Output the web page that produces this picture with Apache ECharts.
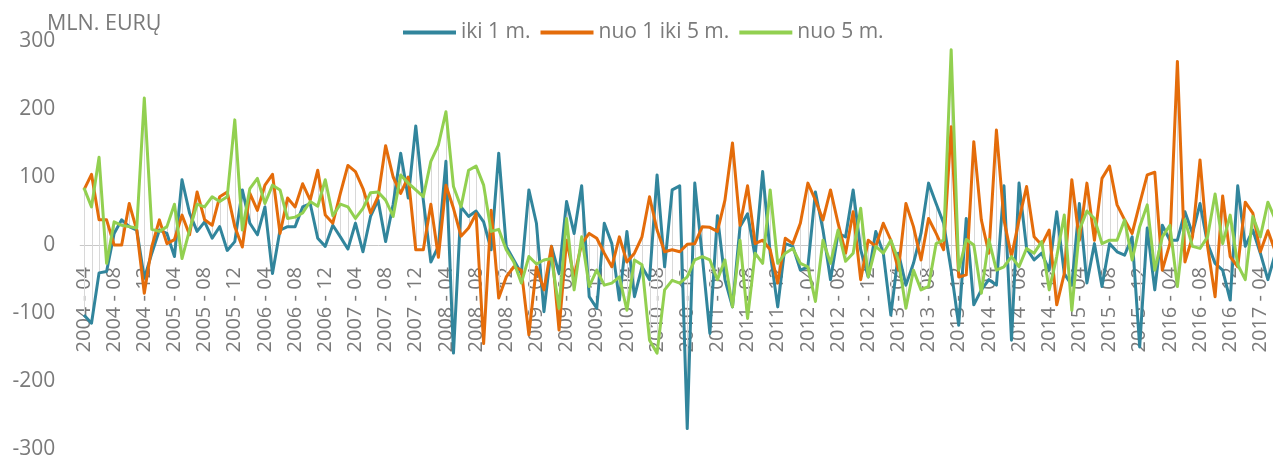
<!DOCTYPE html>
<html>
<head>
<meta charset="utf-8">
<script src="https://cdn.jsdelivr.net/npm/echarts@6/dist/echarts.min.js"></script>
<style>html,body{margin:0;padding:0;background:#fff;overflow:hidden}#c{width:1273px;height:459px}</style>
</head>
<body>
<div id="c"></div>
<script>
const firstYear = 2004, firstMonth = 4;
const seriesNames = ['iki 1 m.', 'nuo 1 iki 5 m.', 'nuo 5 m.'];
const yTicks = [-300, -200, -100, 0, 100, 200, 300];
const iki1 = [
-103,-115,-41,-39,17,37,27,22,-49,-12,
22,17,-17,96,47,20,34,10,27,-8,
5,81,32,15,56,-42,22,27,27,56,
61,10,-2,29,12,-6,32,-10,42,66,
5,60,135,69,175,66,-25,-2,123,-159,
56,42,50,34,-7,135,-2,-22,-42,81,
32,-98,-2,-42,64,17,87,-76,-93,32,
2,-81,20,-76,-32,-51,103,-32,81,87,
-270,91,-17,-130,43,-51,-91,27,46,-17,
108,-12,-91,2,-2,-37,-32,78,22,-51,
17,12,81,-7,-47,20,-12,-103,-12,-59,
-27,17,91,61,32,-37,-118,39,-88,-66,
-51,-59,87,-140,91,-5,-22,-12,-37,49,
-42,-59,61,-56,2,-61,2,-10,-15,12,
-150,25,-66,29,7,7,49,17,61,2,
-27,-37,-81,87,-2,22,-12,-51,-12];
const nuo1iki5 = [
81,104,37,37,0,0,61,22,-71,-2,
37,2,8,44,15,78,37,29,71,78,
27,-3,76,51,88,104,17,69,56,90,
66,110,44,32,76,117,108,83,47,71,
146,100,76,100,-7,-7,60,-18,88,54,
13,25,46,-145,51,-78,-47,-32,-37,-132,
-32,-66,-2,-125,7,-47,2,17,10,-12,
-32,12,-25,-12,12,71,22,-10,-7,-10,
1,2,27,26,20,66,150,29,87,2,
7,-7,-56,10,2,32,91,66,37,81,
32,-12,49,-51,7,-2,32,7,-37,61,
27,-22,39,17,-7,174,-47,-44,152,37,
-12,169,37,-17,37,86,12,0,22,-88,
-42,96,7,91,7,98,116,59,37,17,
61,103,107,-37,2,270,-25,12,125,-2,
-76,72,-17,-32,63,47,-10,21,-10];
const nuo5 = [
84,56,129,-27,34,29,27,25,216,23,
20,27,60,-20,22,60,56,71,64,71,
184,22,83,98,61,88,81,39,41,47,
64,57,96,43,60,56,39,54,77,78,
66,42,103,91,81,71,123,147,196,86,
56,110,116,88,20,23,-7,-25,-56,-17,
-28,-22,-20,-93,39,-66,12,-61,-37,-59,
-56,-47,-96,-22,-29,-140,-159,-66,-52,-56,
-47,-22,-17,-22,-51,-22,-91,7,-108,-12,
-27,81,-27,-12,-5,-27,-32,-83,7,-27,
22,-24,-12,54,-47,-2,-12,7,-22,-93,
-37,-66,-61,2,7,287,-37,8,0,-71,
8,-37,-32,-17,-32,-5,-12,5,-66,-17,
44,-96,22,50,39,2,7,7,37,-22,
27,59,-37,12,29,-61,37,-2,-5,12,
75,2,44,-29,-51,42,12,63,37];

const months = iki1.map((_, i) => {
  const t = firstYear * 12 + firstMonth - 1 + i;
  return Math.floor(t / 12) + ' - ' + String(t % 12 + 1).padStart(2, '0');
});
const hiLow = iki1.map((v, i) => [i, Math.min(v, nuo1iki5[i], nuo5[i]), Math.max(v, nuo1iki5[i], nuo5[i])]);

const grey = '#7a7a7a';
const font = '"Open Sans", "Liberation Sans", sans-serif';
const line = (name, data, color) => ({
  name, data, type: 'line', symbol: 'none', showSymbol: false, smooth: false,
  lineStyle: { color, width: 3, join: 'round' }, itemStyle: { color }, z: 3, clip: false
});

const chart = echarts.init(document.getElementById('c'), null, { renderer: 'canvas' });
chart.setOption({
  animation: false,
  backgroundColor: '#fff',
  title: { text: 'MLN. EURŲ', left: 42, top: 8, textStyle: { color: grey, fontSize: 21.5, fontWeight: 'normal', fontFamily: font } },
  legend: {
    data: seriesNames, left: 398, top: 17, itemWidth: 53, itemHeight: 4, itemGap: 10, icon: 'rect',
    textStyle: { color: grey, fontSize: 21, fontFamily: font }
  },
  grid: { left: 80.2, top: 41, width: 1199, height: 408, containLabel: false, outerBoundsMode: 'none' },
  xAxis: {
    type: 'category', data: months, boundaryGap: true,
    axisLine: { onZero: true, lineStyle: { color: '#c8c8c8', width: 1 } },
    axisTick: { show: false },
    axisLabel: { interval: 3, rotate: 90, margin: -182, color: grey, fontSize: 20, fontFamily: font, hideOverlap: false }
  },
  yAxis: {
    type: 'value', min: yTicks[0], max: yTicks[yTicks.length - 1], interval: 100,
    axisLine: { show: false }, axisTick: { show: false }, splitLine: { show: false },
    axisLabel: { color: grey, fontSize: 21, fontFamily: font, margin: 25 }
  },
  series: [
    {
      type: 'custom', name: 'hl', silent: true, z: 1, clip: false, coordinateSystem: 'cartesian2d',
      data: hiLow, encode: { x: 0, y: [1, 2] },
      renderItem: (params, api) => {
        const a = api.coord([api.value(0), api.value(1)]);
        const b = api.coord([api.value(0), api.value(2)]);
        const x = Math.round(a[0]) + 0.5;
        return { type: 'line', shape: { x1: x, y1: a[1], x2: x, y2: b[1] }, style: { stroke: '#d8d8d8', lineWidth: 1, fill: null } };
      }
    },
    line(seriesNames[0], iki1, '#31859C'),
    line(seriesNames[1], nuo1iki5, '#E46C0A'),
    line(seriesNames[2], nuo5, '#92D050')
  ]
});
</script>
</body>
</html>
